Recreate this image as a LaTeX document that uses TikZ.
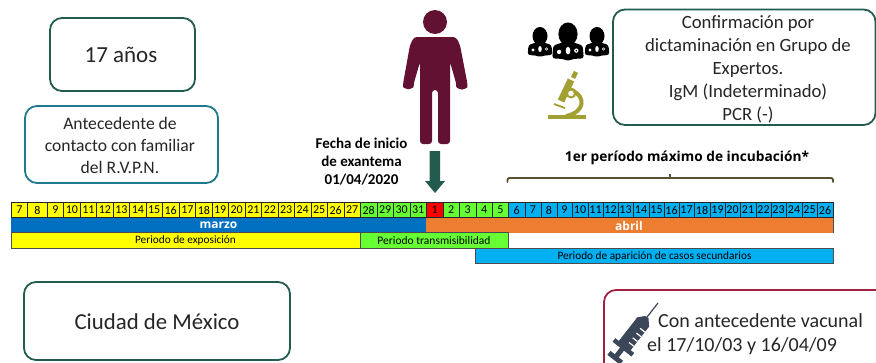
\documentclass[tikz,border=0pt]{standalone}
\usepackage{fontspec}
\setmainfont{Carlito}
\newfontfamily\headfont{Open Sans}
\definecolor{dkgreen}{HTML}{235B4E}
\definecolor{teal1}{HTML}{1F7A8C}
\definecolor{crim}{HTML}{9F2241}
\definecolor{maroon1}{HTML}{621132}
\definecolor{olive1}{HTML}{A3A033}
\definecolor{brace1}{HTML}{5A4F2F}
\definecolor{slate1}{HTML}{3B4658}
\definecolor{yel}{HTML}{FFFF00}
\definecolor{lime1}{HTML}{66FF33}
\definecolor{sky1}{HTML}{00B0F0}
\definecolor{blue1}{HTML}{0070C0}
\definecolor{orange1}{HTML}{ED7D31}
\tikzset{
  x=1pt,y=-1pt,
  infobox/.style={draw=#1,line width=1.8pt,rounded corners=12pt,fill=white,inner sep=0pt},
  infotext/.style={font=\fontsize{#1}{#1}\selectfont,align=center,inner sep=0pt,text=black!85},
  daycell/.style={draw=black!85,line width=.5pt,fill=#1,inner sep=0pt},
  bandbox/.style={draw=black!70,line width=.7pt,fill=#1,inner sep=0pt},
  monthlabel/.style={inner sep=0pt,text=white,font=\headfont\bfseries\fontsize{12}{12}\selectfont},
  bandlabel/.style={inner sep=0pt,font=\fontsize{#1}{#1}\selectfont},
}
\newcommand{\docfig}[3]{%
  \fill[black] (#1,#2) ellipse ({7.5*#3} and {9*#3});
  \fill[black,rounded corners=2.5pt] ({#1-12.3*#3},{#2+19*#3}) -- ({#1-11.5*#3},{#2+9*#3}) -- ({#1-4*#3},{#2+6.5*#3}) -- ({#1+4*#3},{#2+6.5*#3}) -- ({#1+11.5*#3},{#2+9*#3}) -- ({#1+12.3*#3},{#2+19*#3}) -- ({#1+4*#3},{#2+19.5*#3}) -- (#1,{#2+21*#3}) -- ({#1-4*#3},{#2+19.5*#3}) -- cycle;
  \fill[white] (#1,{#2+13*#3}) ellipse ({1.8*#3} and {3*#3});
  \fill[white] ({#1+6.5*#3},{#2+13*#3}) circle ({1.7*#3});
  \fill[white] ({#1-7*#3},{#2+14*#3}) circle ({1.7*#3});
  \fill[black] ({#1+6.5*#3},{#2+13*#3}) circle ({.7*#3});
}
\begin{document}
\begin{tikzpicture}
\useasboundingbox (0,0) rectangle (876,362);
% info boxes
\draw[infobox=dkgreen] (50,18) rectangle (195,91);
\node[infotext=23] (edad) at (121,55) {17 años};
\draw[infobox=teal1] (25,106) rectangle (218,183);
\node[infotext=17.6] (ante) at (120,145) {Antecedente de\\[4.4pt]contacto con familiar\\[4.4pt]del R.V.P.N.};
\draw[infobox=dkgreen] (24,282) rectangle (290,360);
\node[infotext=22.8] (cdmx) at (157,322) {Ciudad de México};
\draw[infobox=dkgreen] (613,9.5) rectangle (875.5,125);
\node[infotext=18.7] (conf) at (748,69.5) {Confirmación por\\[4.3pt]dictaminación en Grupo de\\[4.3pt]Expertos.\\[4.3pt]IgM (Indeterminado)\\[4.3pt]PCR (-)};
\draw[infobox=crim] (604,290) rectangle (900,380);
\node[infotext=20,anchor=west] (vac1) at (658,321) {Con antecedente vacunal};
\node[infotext=20,anchor=west] (vac2) at (647,346) {el 17/10/03 y 16/04/09};
% person
\fill[maroon1] (435,22) circle (12);
\fill[maroon1,rounded corners=3pt] (414,37) -- (456,37) -- (460,45) -- (467.5,84)
  arc[start angle=0,end angle=180,radius=5.6] -- (450,62) -- (450,144) -- (438,144) -- (438,90) -- (432,90) -- (432,144) -- (420,144) -- (420,62) -- (413.6,84)
  arc[start angle=0,end angle=180,radius=5.3] -- (410,45) -- cycle;
% date text
\node[font=\bfseries\fontsize{15}{15}\selectfont,align=center,inner sep=0pt] (fecha) at (361.5,162) {Fecha de inicio\\[3pt]de exantema\\[3pt]01/04/2020};
% arrow
\fill[dkgreen] (429.5,151) -- (440,151) -- (440,181) -- (445,181) -- (435,193) -- (425,181) -- (429.5,181) -- cycle;
% doctors
\docfig{540}{36}{1.0}
\docfig{568}{34}{1.28}
\docfig{597}{36}{1.0}
% microscope
\fill[olive1] (548,115) rectangle (586,119);
\draw[olive1,line width=7pt] (571,80) -- (561,101);
\draw[olive1,line width=4.5pt] (576,72) -- (573,78);
\draw[olive1,line width=4pt] (573,91) .. controls (585,96) and (586,112) .. (566,116);
\fill[olive1] (571,93) circle (5.5);
\fill[white] (571,93.5) circle (2.8);
\draw[olive1,line width=1.8pt] (554,104) -- (565,108);
% syringe
\begin{scope}[shift={(658,303)},rotate=-128]
  \draw[slate1,line width=1.2pt] (0,0) -- (22,0);
  \fill[slate1] (18,-2) -- (24,-7.5) -- (56,-7.5) -- (56,7.5) -- (24,7.5) -- (18,2) -- cycle;
  \fill[slate1] (54,-12) rectangle (58.5,12);
  \fill[slate1] (58,-2.5) rectangle (69,2.5);
  \fill[slate1] (67,-8) rectangle (72,8);
  \foreach \t in {31,37,43,49} \draw[white,line width=1.2pt] (\t,-7.5) -- (\t,-1.5);
\end{scope}
% brace
\draw[brace1,line width=1.9pt,line cap=round,rounded corners=2pt] (507.5,182) -- (507.5,178) -- (833,178) -- (833,182);
\draw[brace1,line width=1.9pt] (670,178) -- (670,174);
\node[font=\headfont\bfseries\fontsize{13.7}{13.7}\selectfont,inner sep=0pt] (incub) at (687,157.5) {1er período máximo de incubación*};
% calendar
\foreach \a/\b/\d/\c [count=\i] in {
 11/27.7/7/yel,27.7/47/8/yel,47/63.7/9/yel,63.7/80/10/yel,80/96.7/11/yel,96.7/113/12/yel,113/129.7/13/yel,129.7/146/14/yel,146/162.3/15/yel,162.3/179/16/yel,179/195.7/17/yel,195.7/212/18/yel,212/228.3/19/yel,228.3/245/20/yel,245/261.7/21/yel,261.7/278/22/yel,278/294.3/23/yel,294.3/311/24/yel,311/327.3/25/yel,327.3/344/26/yel,344/360.3/27/yel,
 360.3/377/28/lime1,377/393.3/29/lime1,393.3/410/30/lime1,410/426.3/31/lime1,426.3/443/1/red,443/459.5/2/lime1,459.5/476/3/lime1,476/492.5/4/lime1,492.5/508.5/5/lime1,
 508.5/525/6/sky1,525/541/7/sky1,541/557/8/sky1,557/572/9/sky1,572/588/10/sky1,588/603/11/sky1,603/618/12/sky1,618/633/13/sky1,633/649/14/sky1,649/664/15/sky1,664/679/16/sky1,679/694/17/sky1,694/710/18/sky1,710/725/19/sky1,725/740/20/sky1,740/756/21/sky1,756/771/22/sky1,771/786/23/sky1,786/802/24/sky1,802/817/25/sky1,817/833/26/sky1}{
  \path[daycell=\c] (\a,202) rectangle (\b,217.5);
  \node[bandlabel=12] (day\i) at ({(\a+\b)/2},210) {\d};
}
\fill[blue1] (11,217.5) rectangle (426.3,232.5);
\node[monthlabel] (marzo) at (218.5,225.5) {marzo};
\fill[orange1] (426.3,217.5) rectangle (833,232.5);
\draw[black!70,line width=.6pt] (833,217.5) -- (833,232.5);
\node[monthlabel] (abril) at (629,225.5) {abril};
\path[bandbox=yel] (11,232.5) rectangle (360.3,248);
\node[bandlabel=11.3] (expo) at (185.5,240.5) {Periodo de exposición};
\path[bandbox=lime1] (360.3,232.5) rectangle (508.5,248);
\node[bandlabel=11.5] (trans) at (434,240.5) {Periodo transmisibilidad};
\path[bandbox=sky1] (475.5,248) rectangle (833,263.5);
\node[bandlabel=11.3] (sec) at (654.5,256.5) {Periodo de aparición de casos secundarios};
\end{tikzpicture}
\end{document}
